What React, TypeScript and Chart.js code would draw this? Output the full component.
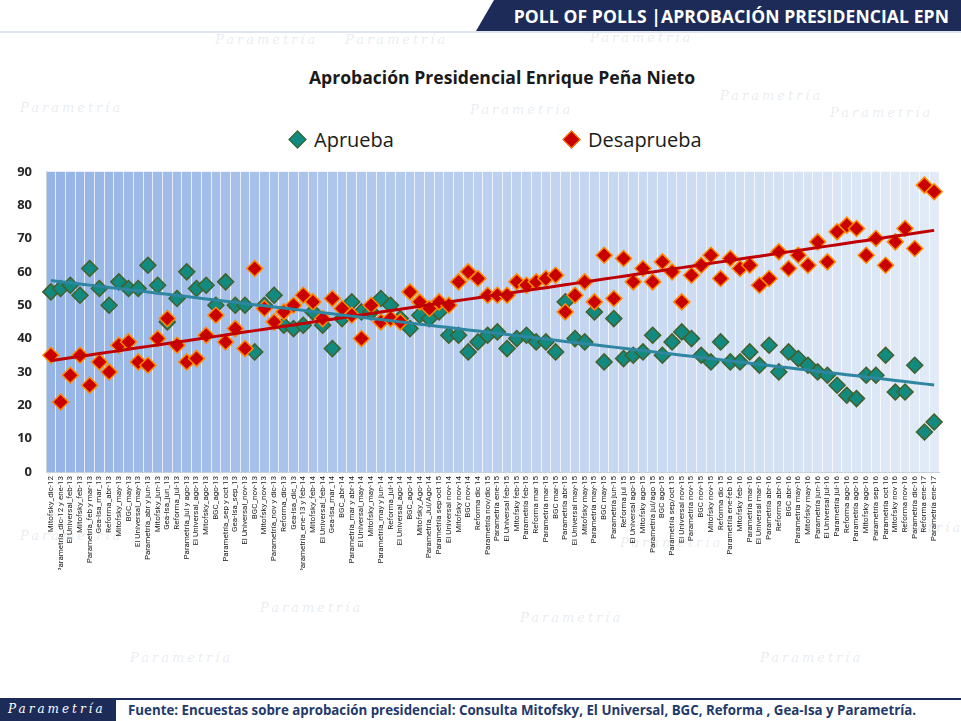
import React, { useEffect, useRef } from 'react';
import { Chart, registerables } from 'chart.js';

Chart.register(...registerables);

// ---------- datos ----------
const categories = [
  'Mitofsky_dic-12', 'Parametría_dic-12 y ene-13', 'El Universal_feb-13', 'Mitofsky_feb-13',
  'Parametría_feb y mar-13', 'Gea-Isa_mar_13', 'Reforma_abr-13', 'Mitofsky_may-13', 'BGC_may-13',
  'El Universal_may-13', 'Parametría_abr y jun-13', 'Mitofsky_jun-13', 'Gea-Isa_jun_13',
  'Reforma_jul-13', 'Parametría_jul y ago-13', 'El Universal_ago-13', 'Mitofsky_ago-13',
  'BGC_ago-13', 'Parametría_sep y oct 13', 'Gea-Isa_sep_13', 'El Universal_nov-13', 'BGC_nov-13',
  'Mitofsky_nov-13', 'Parametría_nov y dic-13', 'Reforma_dic-13', 'Gea-Isa_dic_13',
  'Parametría_ene-13 y feb-14', 'Mitofsky_feb-14', 'El Universal_feb-14', 'Gea-Isa_mar_14',
  'BGC_abr-14', 'Parametría_mar y abr-14', 'El Universal_may-14', 'Mitofsky_may-14',
  'Parametría_may y jun-14', 'Reforma_jul-14', 'El Universal_ago-14', 'BGC_ago-14',
  'Mitofsky_Ago-14', 'Parametría_Jul/Ago-14', 'Parametría sep-oct 15', 'El Universal nov-14',
  'Mitofsky nov-14', 'BGC nov-14', 'Reforma dic 14', 'Parametría nov/dic 15', 'Parametría ene-15',
  'El Universal feb-15', 'Mitofsky feb-15', 'Parametría feb-15', 'Reforma mar 15',
  'Parametría mar-15', 'BGC mar-15', 'Parametría abr-15', 'El Universal may-15', 'Mitofsky may-15',
  'Parametría may-15', 'BGC may-15', 'Parametría jun-15', 'Reforma jul 15', 'El Universal ago-15',
  'Mitofsky ago-15', 'Parametría jul/ago 15', 'BGC ago-15', 'Parametría sep/oct 15',
  'El Universal nov-15', 'Parametría nov-15', 'BGC nov-15', 'Mitofsky nov-15', 'Reforma dic 15',
  'Parametría ene-feb 16', 'Mitofsky feb-16', 'Parametría mar-16', 'El Universal mar-16',
  'Parametría abr-16', 'Reforma abr-16', 'BGC abr-16', 'Parametría may-16', 'Mitofsky may-16',
  'Parametría jun-16', 'El Universal jul-16', 'Parametría jul-16', 'Reforma ago-16',
  'Parametría ago-16', 'Mitofsky ago-16', 'Parametría sep 16', 'Parametría oct 16',
  'Mitofsky nov 16', 'Reforma nov-16', 'Parametría dic-16', 'Reforma ene-17', 'Parametría ene-17',
];

const aprueba = [
  54, 55, 56, 53, 61, 55, 50, 57, 55, 55, 62, 56, 45, 52, 60, 55, 56, 50, 57, 50,
  50, 36, 50, 53, 44, 43, 44, 48, 44, 37, 46, 51, 48, 48, 52, 50, 46, 43, 47, 46,
  48, 41, 41, 36, 39, 41, 42, 37, 40, 41, 39, 39, 36, 51, 40, 39, 48, 33, 46, 34,
  35, 36, 41, 35, 39, 42, 40, 35, 33, 39, 33, 33, 36, 32, 38, 30, 36, 34, 32, 30,
  29, 26, 23, 22, 29, 29, 35, 24, 24, 32, 12, 15,
];

const desaprueba = [
  35, 21, 29, 35, 26, 33, 30, 38, 39, 33, 32, 40, 46, 38, 33, 34, 41, 47, 39, 43,
  37, 61, 49, 45, 48, 50, 53, 51, 46, 52, 49, 47, 40, 50, 45, 46, 45, 54, 51, 49,
  51, 50, 57, 60, 58, 53, 53, 53, 57, 56, 57, 58, 59, 48, 53, 57, 51, 65, 52, 64,
  57, 61, 57, 63, 60, 51, 59, 62, 65, 58, 64, 61, 62, 56, 58, 66, 61, 65, 62, 69,
  63, 72, 74, 73, 65, 70, 62, 69, 73, 67, 86, 84,
];

const yTicks = [0, 10, 20, 30, 40, 50, 60, 70, 80, 90];

// línea de tendencia lineal (mínimos cuadrados), como en Excel
const tendencia = (vals: number[]) => {
  const n = vals.length;
  let sx = 0, sy = 0, sxy = 0, sxx = 0;
  vals.forEach((v, i) => { sx += i; sy += v; sxy += i * v; sxx += i * i; });
  const m = (n * sxy - sx * sy) / (n * sxx - sx * sx);
  const b = (sy - m * sx) / n;
  return vals.map((_, i) => b + m * i);
};

const VERDE = '#128a7f';
const VERDE_BORDE = '#44602a';
const ROJO = '#c80000';
const ROJO_BORDE = '#ff8a00';

// fondo degradado del área de trazado
const fondoPlot = {
  id: 'fondoPlot',
  beforeDraw(chart: any) {
    const { ctx, chartArea } = chart;
    const { left, top, right, bottom } = chartArea;
    const g = ctx.createLinearGradient(left, 0, right, 0);
    g.addColorStop(0, '#95b4e6');
    g.addColorStop(0.45, '#b8cdee');
    g.addColorStop(1, '#e2ebf7');
    ctx.save();
    ctx.fillStyle = g;
    ctx.fillRect(left, top, right - left, bottom - top);
    ctx.restore();
  },
};

const PollChart: React.FC = () => {
  const chartRef = useRef<HTMLCanvasElement>(null);
  const chartInstanceRef = useRef<Chart | null>(null);

  useEffect(() => {
    if (!chartRef.current) return;
    const ctx = chartRef.current.getContext('2d');
    if (!ctx) return;
    if (chartInstanceRef.current) chartInstanceRef.current.destroy();

    chartInstanceRef.current = new Chart(ctx, {
      type: 'line',
      data: {
        labels: categories,
        datasets: [
          {
            label: 'Tendencia Aprueba',
            data: tendencia(aprueba),
            borderColor: '#2f86a0',
            borderWidth: 3,
            pointRadius: 0,
            order: 0,
          },
          {
            label: 'Tendencia Desaprueba',
            data: tendencia(desaprueba),
            borderColor: '#c00000',
            borderWidth: 3,
            pointRadius: 0,
            order: 0,
          },
          {
            label: 'Desaprueba',
            data: desaprueba,
            showLine: false,
            pointStyle: 'rectRot',
            pointRadius: 8,
            pointBackgroundColor: ROJO,
            pointBorderColor: ROJO_BORDE,
            pointBorderWidth: 1.5,
            order: 1,
          },
          {
            label: 'Aprueba',
            data: aprueba,
            showLine: false,
            pointStyle: 'rectRot',
            pointRadius: 8,
            pointBackgroundColor: VERDE,
            pointBorderColor: VERDE_BORDE,
            pointBorderWidth: 1.5,
            order: 2,
          },
        ],
      },
      options: {
        responsive: true,
        maintainAspectRatio: false,
        animation: false,
        layout: { padding: { top: 3, right: 22, left: 0, bottom: 0 } },
        plugins: {
          legend: { display: false },
          tooltip: { enabled: false },
        },
        scales: {
          x: {
            offset: true,
            grid: {
              offset: true,
              color: 'rgba(255,255,255,0.75)',
              lineWidth: 1,
              drawTicks: false,
            },
            border: { display: true, color: '#c9d3df' },
            ticks: {
              autoSkip: false,
              maxRotation: 90,
              minRotation: 90,
              padding: 4,
              color: '#1a1a1a',
              font: { family: '"Liberation Sans Narrow", "Arial Narrow", "Roboto", sans-serif', size: 8 },
            },
            afterFit: (scale: any) => { scale.height = 98; },
          },
          y: {
            min: 0,
            max: 90,
            afterBuildTicks: (scale: any) => { scale.ticks = yTicks.map((v) => ({ value: v })); },
            grid: { display: false, drawTicks: false },
            border: { display: true, color: '#c9d3df' },
            ticks: {
              padding: 14,
              color: '#262626',
              font: { family: '"Open Sans", sans-serif', size: 13, weight: 'bold' },
            },
            afterFit: (scale: any) => { scale.width = 46; },
          },
        },
      },
      plugins: [fondoPlot],
    });

    return () => {
      if (chartInstanceRef.current) {
        chartInstanceRef.current.destroy();
        chartInstanceRef.current = null;
      }
    };
  }, []);

  return <canvas ref={chartRef} />;
};

// marcas de agua tenues del fondo
const marcas = [
  [215, 32], [345, 32], [590, 30], [830, 105], [20, 100], [470, 102], [720, 88],
  [20, 528], [620, 535], [860, 520], [260, 600], [520, 610], [130, 650], [760, 650],
];

const Diamante: React.FC<{ fill: string; borde: string }> = ({ fill, borde }) => (
  <span style={{
    display: 'inline-block', width: 11, height: 11, background: fill, border: `1.5px solid ${borde}`,
    transform: 'rotate(45deg)', marginRight: 10, verticalAlign: 'middle', position: 'relative', top: -2,
  }} />
);

export default function App() {
  return (
    <div style={{
      position: 'absolute', left: 0, top: 0, width: 961, height: 721, overflow: 'hidden',
      background: '#ffffff', fontFamily: '"Open Sans", sans-serif',
    }}>
      {marcas.map(([x, y], i) => (
        <div key={i} style={{
          position: 'absolute', left: x, top: y, fontFamily: '"DejaVu Serif", serif', fontStyle: 'italic',
          fontSize: 13, letterSpacing: 3, color: 'rgba(150,165,190,0.22)',
        }}>Parametría</div>
      ))}

      {/* Encabezado */}
      <div style={{
        position: 'absolute', left: 476, top: 0, width: 485, height: 31, background: '#1c2b57',
        clipPath: 'polygon(18px 0, 100% 0, 100% 100%, 0 100%)',
      }} />
      <div style={{
        position: 'absolute', right: 12, top: 4, color: '#ffffff', fontWeight: 700, fontSize: 17.5,
        letterSpacing: 0.1,
      }}>POLL OF POLLS |APROBACIÓN PRESIDENCIAL EPN</div>
      <div style={{ position: 'absolute', left: 0, top: 31, width: 961, height: 2, background: '#dfe5ee' }} />

      {/* Título */}
      <div style={{
        position: 'absolute', left: 0, width: 1004, top: 65, textAlign: 'center', fontWeight: 700,
        fontSize: 17.6, color: '#1a1a1a',
      }}>Aprobación Presidencial Enrique Peña Nieto</div>

      {/* Leyenda */}
      <div style={{ position: 'absolute', left: 291, top: 126, fontSize: 20, color: '#1a1a1a' }}>
        <Diamante fill={VERDE} borde={VERDE_BORDE} />Aprueba
      </div>
      <div style={{ position: 'absolute', left: 565, top: 126, fontSize: 20, color: '#1a1a1a' }}>
        <Diamante fill={ROJO} borde={ROJO_BORDE} />Desaprueba
      </div>

      {/* Gráfica */}
      <div style={{ position: 'absolute', left: 0, top: 150, width: 961, height: 420 }}>
        <PollChart />
      </div>

      {/* Pie */}
      <div style={{ position: 'absolute', left: 0, top: 698, width: 961, height: 1.5, background: '#1c2b57' }} />
      <div style={{
        position: 'absolute', left: 0, top: 698, width: 116, height: 23, background: '#1c2b57',
        color: '#ffffff', fontFamily: '"DejaVu Serif", serif', fontStyle: 'italic', fontSize: 12,
        letterSpacing: 3, lineHeight: '23px', paddingLeft: 8, boxSizing: 'border-box',
      }}>Parametría</div>
      <div style={{
        position: 'absolute', left: 128, top: 701, fontWeight: 700, fontSize: 13.3, color: '#1f3a6b',
      }}>Fuente: Encuestas sobre aprobación presidencial: Consulta Mitofsky, El Universal, BGC, Reforma , Gea-Isa y Parametría.</div>
    </div>
  );
}
